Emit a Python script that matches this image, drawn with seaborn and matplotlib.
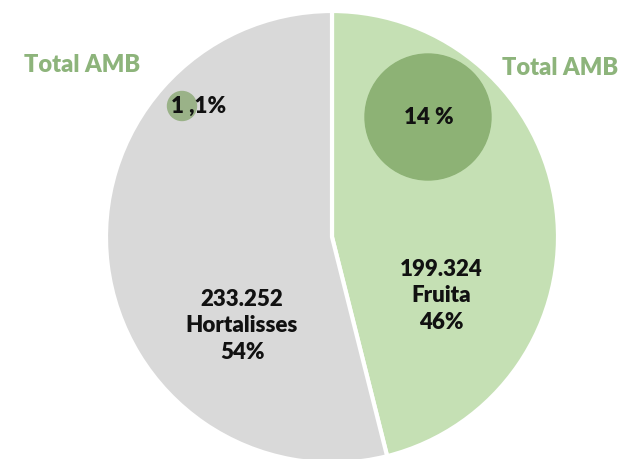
import matplotlib
matplotlib.use("Agg")
import matplotlib.pyplot as plt
from matplotlib.patches import Circle
import seaborn as sns

# Data
categories = ["Fruita", "Hortalisses"]
tonnes = [199.324, 233.252]
value_labels = ["199.324", "233.252"]
share_labels = ["46%", "54%"]
amb_labels = ["14 %", "1 ,1%"]
amb_title = "Total AMB"

sns.set_theme(style="white")
plt.rcParams["font.family"] = ["Lato", "DejaVu Sans"]

colors = ["#C5E0B4", "#D9D9D9"]
amb_colors = ["#8DB275", "#9AB288"]
title_color = "#8DB47B"

fig = plt.figure(figsize=(6.2, 4.6), dpi=100)
ax = fig.add_axes([0, 0, 1, 1])

# Main pie: fruit vs vegetables
ax.pie(tonnes, colors=colors, startangle=90, counterclock=False,
       center=(332, 222), radius=226, frame=True,
       wedgeprops=dict(edgecolor="white", linewidth=3))
ax.set_xlim(0, 620)
ax.set_ylim(0, 460)
ax.set_aspect("equal")
ax.axis("off")

label_kw = dict(ha="center", va="center", fontsize=16, fontweight="heavy",
                color="#111111", linespacing=1.3)

# Slice labels
ax.text(441, 460 - 296, f"{value_labels[0]}\n{categories[0]}\n{share_labels[0]}",
        **label_kw)
ax.text(242, 460 - 326, f"{value_labels[1]}\n{categories[1]}\n{share_labels[1]}",
        **label_kw)

# AMB share bubbles
ax.add_patch(Circle((428, 460 - 118), 63, color=amb_colors[0], zorder=3))
ax.add_patch(Circle((182, 460 - 107), 14.5, color=amb_colors[1], zorder=3))
ax.text(429, 460 - 118, amb_labels[0], ha="center", va="center",
        fontsize=16, fontweight="heavy", color="#111111", zorder=4)
ax.text(171, 460 - 106, amb_labels[1], ha="left", va="center",
        fontsize=16, fontweight="heavy", color="#111111", zorder=4)

# Headings
ax.text(82, 460 - 65, amb_title, ha="center", va="center",
        fontsize=17, fontweight="heavy", color=title_color)
ax.text(560, 460 - 68, amb_title, ha="center", va="center",
        fontsize=17, fontweight="heavy", color=title_color)

fig.savefig("out.png", dpi=100, facecolor="white")
